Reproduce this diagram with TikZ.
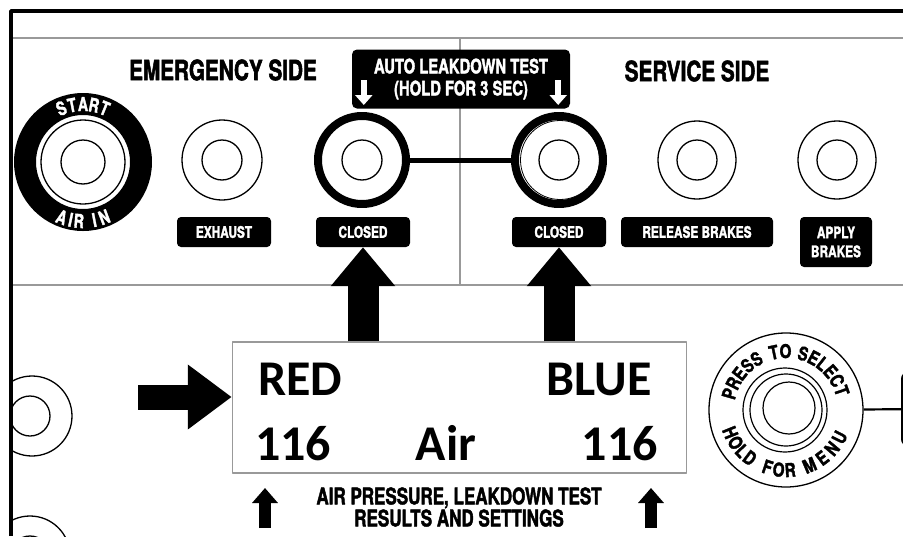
\documentclass[tikz,border=0pt]{standalone}
\usepackage{fontspec}
\setmainfont{Carlito}
\newfontfamily\condfont[FakeStretch=0.74,BoldFeatures={FakeBold=1.8}]{TeX Gyre Heros}
\newfontfamily\knobfont[FakeStretch=0.8,BoldFeatures={FakeBold=1.8}]{TeX Gyre Heros}
\usetikzlibrary{arrows.meta}

\begin{document}
\begin{tikzpicture}[x=1pt,y=1pt,line join=round,
	tag/.style={fill=black,text=white,rounded corners=4,minimum height=30,minimum width=94,inner xsep=8,font=\condfont\bfseries\fontsize{16}{19}\selectfont},
	head/.style={font=\condfont\bfseries\fontsize{28}{28}\selectfont},
	btn/.style={circle,draw,line width=1.3,minimum size=80,inner sep=0},
	core/.style={circle,draw,line width=1.3,minimum size=40,inner sep=0},
	ringbtn/.style={circle,draw,line width=8,minimum size=88,inner sep=0},
	lcd/.style={font=\bfseries\fontsize{50}{50}\selectfont,inner sep=0},
	ringtxt/.style={text=white,inner sep=0,anchor=base,font=\condfont\bfseries\fontsize{19}{19}\selectfont},
	knobtxt/.style={inner sep=0,anchor=base,font=\knobfont\bfseries\fontsize{19}{19}\selectfont},
	bigup/.style={line width=31,line cap=butt,-{Triangle[length=39pt,width=62pt]}},
	smallup/.style={line width=12,line cap=butt,-{Triangle[length=15pt,width=25pt]}},
	whitedown/.style={white,line width=6,line cap=butt,-{Triangle[length=10pt,width=17pt]}},
	gline/.style={gray!80,line width=1.6}]
	\def\W{903} \def\H{536}
	\useasboundingbox (0,0) rectangle (\W,-\H);
	\clip (0,0) rectangle (\W,-\H);
	\draw[gline] (11,-38) -- (\W,-38);
	\draw[gline] (11,-285) -- (\W,-285);
	\draw[gline] (460,-38) -- (460,-285);

	\node[head] (emg) at (223,-70) {EMERGENCY SIDE};
	\node[head] (srv) at (697,-71) {SERVICE SIDE};
	\node[fill=black,text=white,rounded corners=5,minimum width=218,minimum height=59,align=center,
		font=\condfont\bfseries\fontsize{20}{22}\selectfont] (auto) at (461,-79) {AUTO LEAKDOWN TEST\\(HOLD FOR 3 SEC)};
	\draw[whitedown] ([xshift=12,yshift=-1]auto.west) -- ([xshift=12,yshift=-26]auto.west);
	\draw[whitedown] ([xshift=-12,yshift=-1]auto.east) -- ([xshift=-12,yshift=-26]auto.east);

	\node[ringbtn,line width=22,minimum size=116] (start) at (83,-162) {};
	\node[circle,draw,line width=1.3,minimum size=84] (startin) at (start) {};
	\node[core,minimum size=44] (startcore) at (start) {};
	\foreach \a/\c [count=\i] in {112/S,101/T,90/A,79/R,68/T}
		\node[ringtxt,rotate=\a-90] (st\i) at ([shift={(\a:51)}]start.center) {\c};
	\foreach \a/\c [count=\i] in {249/A,258/I,266/R,281/I,291/N}
		\node[ringtxt,rotate=\a+90] (ai\i) at ([shift={(\a:66)}]start.center) {\c};

	\node[btn] (exh) at (222,-160) {};
	\node[core] (exhcore) at (exh) {};
	\node[ringbtn] (clEbtn) at (362,-160) {};
	\node[core] (clEcore) at (clEbtn) {};
	\node[ringbtn] (clSbtn) at (559,-160) {};
	\node[circle,draw,line width=0.8,minimum size=79,inner sep=0] (clSin) at ([xshift=1]clSbtn) {};
	\node[core] (clScore) at (clSbtn) {};
	\node[btn,minimum size=78] (rel) at (697,-160) {};
	\node[core] (relcore) at (rel) {};
	\node[btn,minimum size=78] (app) at (837,-160) {};
	\node[core] (appcore) at (app) {};
	\draw[line width=5] (clEbtn) -- (clSbtn);

	\node[tag] (exhlbl) at (224,-232) {EXHAUST};
	\node[tag] (clElbl) at (363,-232) {CLOSED};
	\node[tag] (clSlbl) at (559,-232) {CLOSED};
	\node[tag,minimum width=152] (rellbl) at (697,-232) {RELEASE BRAKES};
	\node[tag,minimum width=72,minimum height=50,align=center] (applbl) at (836,-242) {APPLY\\BRAKES};

	\node[draw=gray!80,line width=1.5,minimum width=454,minimum height=131,inner sep=0] (disp) at (459.5,-407.5) {};
	\node[lcd,anchor=base west] (red) at (258,-395) {RED};
	\node[lcd,anchor=base east] (blue) at (652,-395) {BLUE};
	\node[lcd,anchor=base west] (pleft) at (255,-460) {116};
	\node[lcd,anchor=base] (air) at (446,-460) {Air};
	\node[lcd,anchor=base east] (pright) at (658,-460) {116};

	\draw[bigup] (disp.north -| clElbl.south) -- (clElbl.south);
	\draw[bigup] (disp.north -| clSlbl.south) -- (clSlbl.south);
	\coordinate (lin) at (138,-397);
	\draw[line width=25,line cap=butt,-{Triangle[length=44pt,width=62pt]}] (lin) -- (lin -| disp.west);

	\coordinate (sl) at (265,-528);
	\coordinate (sr) at (651,-528);
	\draw[smallup] (sl) -- ++(0,40);
	\draw[smallup] (sr) -- ++(0,40);
	\node[font=\condfont\bfseries\fontsize{23}{20}\selectfont,align=center] (cap) at (459,-507) {AIR PRESSURE, LEAKDOWN TEST\\RESULTS AND SETTINGS};

	\node[circle,draw,line width=1.3,minimum size=154,inner sep=0] (knob) at (786,-410) {};
	\node[circle,draw,line width=1.2,minimum size=84,inner sep=0] (k1) at (785,-410) {};
	\node[circle,draw,line width=1.2,minimum size=72,inner sep=0] (k2) at (786,-410) {};
	\node[circle,draw,line width=1.2,minimum size=52,inner sep=0] (k3) at (789,-408) {};
	\foreach \a/\c [count=\i] in {164/P,153/R,142/E,131/S,120/S,102/T,90.5/O,73/S,62/E,51.5/L,41/E,30/C,19/T}
		\node[knobtxt,rotate=\a-90] (ps\i) at ([shift={(\a:52)}]knob.center) {\c};
	\foreach \a/\c [count=\i] in {202/H,213/O,223/L,233/D,252/F,263/O,274/R,293/M,307/E,320/N,333/U}
		\node[knobtxt,rotate=\a+90] (hm\i) at ([shift={(\a:67)}]knob.center) {\c};
	\node[draw,line width=3,rounded corners=6,minimum width=60,minimum height=72,anchor=west] (panel) at (901,-409) {};
	\draw[line width=2.2] (knob) -- (panel);

	\begin{scope}
		\clip (11,0) rectangle (\W,-\H);
		\node[btn] (lb1) at (32,-416) {};
		\node[core] (lb1core) at (30,-416) {};
		\node[btn] (lb2) at (30,-556) {};
		\node[core] (lb2core) at (30,-556) {};
	\end{scope}
	\draw[line width=3.5] (11,-\H) -- (11,-11) -- (\W,-11);
\end{tikzpicture}
\end{document}
